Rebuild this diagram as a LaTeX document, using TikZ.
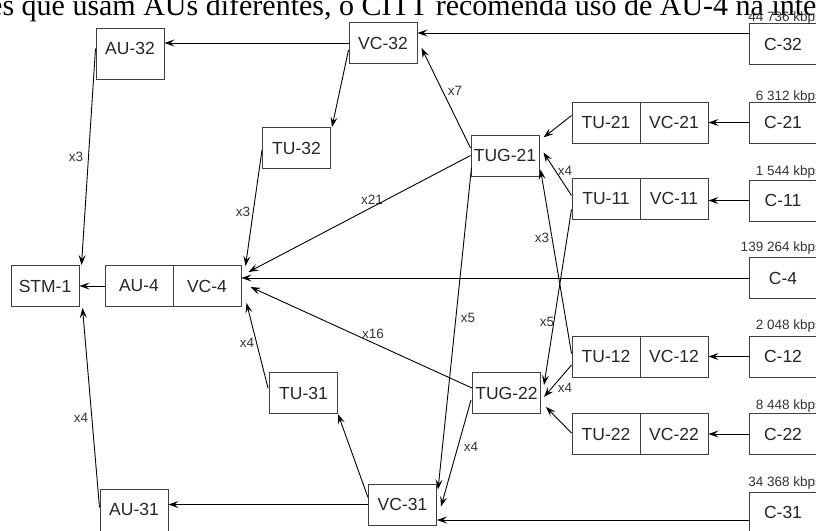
\documentclass[tikz,border=0pt]{standalone}
\usepackage{fontspec}
\setmainfont{Liberation Sans}
\newfontfamily\headfont{Liberation Serif}
\newfontfamily\ratefont{Liberation Sans}
\usetikzlibrary{arrows.meta}

\begin{document}
\begin{tikzpicture}[x=1pt, y=-1pt, >={Stealth[length=10pt,width=7pt,inset=4pt]}]
    \useasboundingbox (0,0) rectangle (816,530);
    \clip (0,0) rectangle (816,530);
    % line of running text above the figure
    \node[anchor=base west, inner sep=0, font=\headfont\fontsize{30}{30}\selectfont] (head) at (-11,15) {es que usam AUs diferentes, o CITT recomenda uso de AU-4 na inter};
    \begin{scope}
        \tikzstyle{every node}=[fill=white, draw=black!75, rectangle, line width=1pt, text=black!85, inner sep=0, minimum width=68pt, minimum height=41pt, font=\fontsize{17.5}{20}\selectfont]
        \tikzstyle{tall}=[minimum height=51pt, text height=12pt, text depth=10pt]
        \node (stm1) at (45,286) {STM-1};
        \node (au4) at (139,286) {AU-4};
        \node (vc4) at (207,286) {VC-4};
        \node[tall] (au32) at (130,53.5) {AU-32};
        \node[tall] (au31) at (134,514.5) {AU-31};
        \node (vc32) at (383,43) {VC-32};
        \node (tu32) at (296.5,148) {TU-32};
        \node (tu31) at (303.5,393) {TU-31};
        \node (vc31) at (402.5,504.5) {VC-31};
        \node (tug21) at (505,155.5) {TUG-21};
        \node (tug22) at (506.5,393) {TUG-22};
        \node (tu21) at (606,122.5) {TU-21};
        \node (vc21) at (674,122.5) {VC-21};
        \node (tu11) at (606,198.5) {TU-11};
        \node (vc11) at (674,198.5) {VC-11};
        \node (tu12) at (606,356.5) {TU-12};
        \node (vc12) at (674,356.5) {VC-12};
        \node (tu22) at (606,434) {TU-22};
        \node (vc22) at (674,434) {VC-22};
        \node (c32) at (783,44) {C-32};
        \node (c21) at (783,122.5) {C-21};
        \node (c11) at (783,200.5) {C-11};
        \node (c4) at (783,278) {C-4};
        \node (c12) at (783,356.5) {C-12};
        \node (c22) at (783,434) {C-22};
        \node (c31) at (783,512.5) {C-31};
    \end{scope}
    \begin{scope}
        \tikzstyle{every node}=[text=black!80, inner sep=0, font=\ratefont\fontsize{13.5}{15}\selectfont]
        % bit rates
        \node[anchor=base east] (r32) at (822,21) {44 736 kbps};
        \node[anchor=base east] (r21) at (822,100) {6 312 kbps};
        \node[anchor=base east] (r11) at (822,175) {1 544 kbps};
        \node[anchor=base east] (r4) at (822,251) {139 264 kbps};
        \node[anchor=base east] (r12) at (822,329) {2 048 kbps};
        \node[anchor=base east] (r22) at (822,409) {8 448 kbps};
        \node[anchor=base east] (r31) at (822,486) {34 368 kbps};
        % multiplexing factors
        \node (m1) at (76,157) {x3};
        \node (m2) at (455,91) {x7};
        \node (m3) at (243,212) {x3};
        \node (m4) at (372,200) {x21};
        \node (m5) at (565,171) {x4};
        \node (m6) at (542,238) {x3};
        \node (m7) at (468,318) {x5};
        \node (m8) at (547,322) {x5};
        \node (m9) at (373,334) {x16};
        \node (m10) at (247,343) {x4};
        \node (m11) at (565,388) {x4};
        \node (m12) at (81,418) {x4};
        \node (m13) at (471,447) {x4};
    \end{scope}
    \begin{scope}
        \tikzstyle{every edge}=[draw, black, line width=0.9pt, ->]
        \path
        ([shift={(0,-11)}]c32.west) edge ([shift={(0,-10)}]vc32.east)
        (c21) edge (vc21)
        (c11.west) edge (vc11.east |- c11.west)
        (c4.west) edge (vc4.east |- c4.west)
        (c12) edge (vc12)
        (c22) edge (vc22)
        ([shift={(0,7.5)}]c31.west) edge ([shift={(0,15.5)}]vc31.east)
        (vc32.west) edge (au32.east |- vc32.west)
        (vc31.west) edge (au31.east |- vc31.west)
        (au4) edge (stm1)
        ([shift={(0,-5)}]au32.west) edge ([shift={(2,0)}]stm1.north east)
        ([shift={(0,-7)}]au31.west) edge ([shift={(3,1)}]stm1.south east)
        ([shift={(0,7)}]vc32.west) edge ([shift={(1,0)}]tu32.north east)
        ([shift={(0,-7)}]vc31.west) edge (tu31.south east)
        ([shift={(0,2)}]tu32.west) edge ([shift={(4,1)}]vc4.north east)
        ([shift={(-1,-5)}]tu31.west) edge ([shift={(5,-4)}]vc4.south east)
        (tug21.west) edge ([shift={(7,-14)}]vc4.east)
        ([shift={(0,-5)}]tug22.west) edge ([shift={(9,1)}]vc4.east)
        ([shift={(0,-7.5)}]tug21.west) edge ([shift={(4,5)}]vc32.east)
        ([shift={(1,-9)}]tug21.south west) edge ([shift={(1,6)}]vc31.north east)
        ([shift={(-1,7)}]tug22.west) edge ([shift={(4,2)}]vc31.east)
        ([shift={(0,-7)}]tu21.west) edge ([shift={(4,3)}]tug21.north east)
        ([shift={(0,-3)}]tu11.west) edge ([shift={(4,-3)}]tug21.east)
        ([shift={(0,-3)}]tu12.west) edge ([shift={(1,-7)}]tug21.south east)
        ([shift={(0,11)}]tu11.west) edge ([shift={(3,-8)}]tug22.east)
        ([shift={(0,8.5)}]tu12.west) edge ([shift={(3,4)}]tug22.east)
        ([shift={(0,-1)}]tu22.west) edge ([shift={(5,-7)}]tug22.south east)
        ;
    \end{scope}
\end{tikzpicture}
\end{document}
